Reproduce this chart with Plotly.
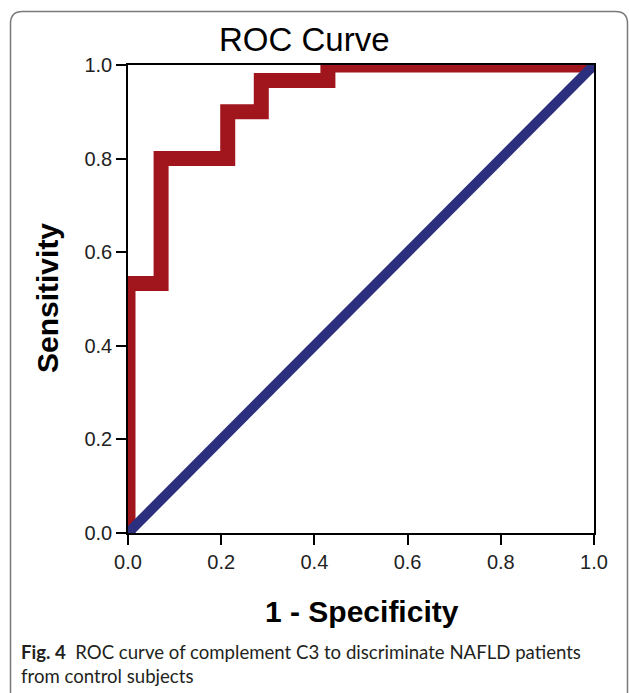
import plotly.graph_objects as go

# ROC coordinates (1 - specificity, sensitivity)
fpr = [0.0, 0.0, 0.071, 0.214, 0.286, 0.429, 1.0]
sensitivity = [0.0, 0.533, 0.800, 0.900, 0.967, 1.0, 1.0]
ref_x = [0.0, 1.0]
ref_y = [0.0, 1.0]
tick_vals = [0.0, 0.2, 0.4, 0.6, 0.8, 1.0]
tick_text = ["0.0", "0.2", "0.4", "0.6", "0.8", "1.0"]

W, H = 629, 693
L, R, T, B = 128, 35, 65, 160
PW, PH = W - L - R, H - T - B

def px(x):
    return (x - L) / PW

def py(y):
    return (H - B - y) / PH

RED = "#A1161C"
BLUE = "#2C2F7D"
FONT = "Liberation Sans, Arial, sans-serif"

fig = go.Figure()
fig.add_trace(go.Scatter(x=fpr, y=sensitivity, mode="lines",
                         line=dict(color=RED, width=15, shape="hv"),
                         hoverinfo="skip", showlegend=False))
fig.add_trace(go.Scatter(x=ref_x, y=ref_y, mode="lines",
                         line=dict(color=BLUE, width=10),
                         hoverinfo="skip", showlegend=False))

axis_common = dict(range=[0, 1], showgrid=False, zeroline=False,
                   showline=True, linecolor="black", linewidth=1.5, mirror=True,
                   ticks="outside", ticklen=10, tickwidth=1.5, tickcolor="black",
                   tickvals=tick_vals, ticktext=tick_text,
                   tickfont=dict(family=FONT, size=20, color="#222"))
fig.update_xaxes(**axis_common)
fig.update_yaxes(**axis_common)

# rounded outer border
rx, ry = 12 / PW, 12 / PH
lx, tx, rgt, bot = px(10.5), py(11.5), px(627.5), py(700)
path = (f"M {lx},{bot} L {lx},{tx - ry} Q {lx},{tx} {lx + rx},{tx} "
        f"L {rgt - rx},{tx} Q {rgt},{tx} {rgt},{tx - ry} L {rgt},{bot}")
fig.add_shape(type="path", path=path, xref="paper", yref="paper",
              line=dict(color="#7a7a7a", width=1.5), layer="above")

annotations = [
    dict(text="ROC Curve", x=px(304), y=py(40), font=dict(family=FONT, size=33, color="black"),
         xanchor="center", yanchor="middle"),
    dict(text="<b>1 - Specificity</b>", x=px(362), y=py(611),
         font=dict(family=FONT, size=30, color="black"), xanchor="center", yanchor="middle"),
    dict(text="<b>Sensitivity</b>", x=px(47), y=py(298), textangle=-90,
         font=dict(family=FONT, size=30, color="black"), xanchor="center", yanchor="middle"),
    dict(text="<b>Fig. 4</b>  ROC curve of complement C3 to discriminate NAFLD patients<br>from control subjects",
         x=px(19), y=py(664), xanchor="left", yanchor="middle", align="left",
         font=dict(family="Lato, Open Sans, sans-serif", size=18.6, color="#231f20")),
]
for a in annotations:
    a.update(xref="paper", yref="paper", showarrow=False)

fig.update_layout(width=W, height=H, margin=dict(l=L, r=R, t=T, b=B, pad=0),
                  paper_bgcolor="white", plot_bgcolor="white",
                  annotations=annotations, showlegend=False)

fig.write_html("out.html")
